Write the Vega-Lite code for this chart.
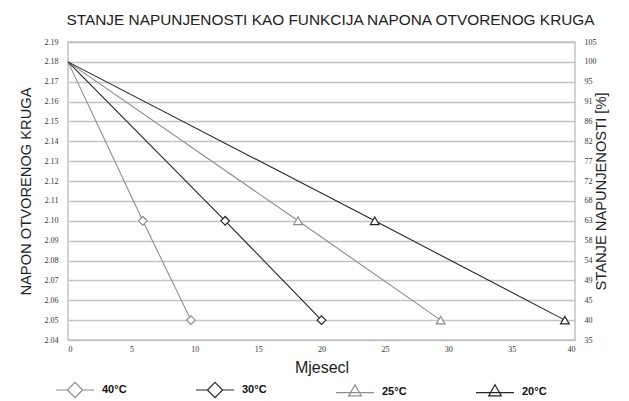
{
  "$schema": "https://vega.github.io/schema/vega-lite/v6.json",
  "width": 507,
  "height": 298,
  "autosize": "none",
  "padding": {"left": 68, "top": 42, "right": 54, "bottom": 61},
  "background": "white",
  "config": {
    "font": "Liberation Sans",
    "view": {"stroke": "#c4c4c4", "strokeWidth": 1.5},
    "axis": {
      "grid": false,
      "ticks": false,
      "domain": false,
      "labelFont": "Liberation Sans Narrow",
      "labelFontSize": 8,
      "labelColor": "#333",
      "titleFont": "Liberation Sans",
      "titleFontWeight": "normal",
      "titleFontSize": 14.7,
      "titleColor": "#222"
    }
  },
  "title": {
    "text": "STANJE NAPUNJENOSTI KAO FUNKCIJA NAPONA OTVORENOG KRUGA",
    "font": "Liberation Sans",
    "fontSize": 15.4,
    "fontWeight": "normal",
    "color": "#222",
    "dx": 9,
    "offset": 10
  },
  "data": {
    "values": [
      {"series": "40°C", "month": 0, "voltage": 2.18},
      {"series": "40°C", "month": 5.9, "voltage": 2.10},
      {"series": "40°C", "month": 9.7, "voltage": 2.05},
      {"series": "30°C", "month": 0, "voltage": 2.18},
      {"series": "30°C", "month": 12.4, "voltage": 2.10},
      {"series": "30°C", "month": 20.0, "voltage": 2.05},
      {"series": "25°C", "month": 0, "voltage": 2.18},
      {"series": "25°C", "month": 18.15, "voltage": 2.10},
      {"series": "25°C", "month": 29.4, "voltage": 2.05},
      {"series": "20°C", "month": 0, "voltage": 2.18},
      {"series": "20°C", "month": 24.2, "voltage": 2.10},
      {"series": "20°C", "month": 39.2, "voltage": 2.05}
    ]
  },
  "layer": [
    {
      "mark": {"type": "point", "opacity": 0},
      "encoding": {
        "x": {
          "field": "month", "type": "quantitative",
          "scale": {"domain": [0, 40], "nice": false, "zero": false},
          "axis": {"values": [0, 5, 10, 15, 20, 25, 30, 35, 40], "title": "Mjesecl", "labelPadding": 5, "titlePadding": 6, "titleFontSize": 16}
        },
        "y": {
          "field": "voltage", "type": "quantitative",
          "scale": {"domain": [2.04, 2.19], "nice": false, "zero": false},
          "axis": {
            "orient": "left",
            "values": [2.04, 2.05, 2.06, 2.07, 2.08, 2.09, 2.1, 2.11, 2.12, 2.13, 2.14, 2.15, 2.16, 2.17, 2.18, 2.19],
            "labelExpr": "format(datum.value, '.2f')",
            "labelOverlap": false,
            "grid": true,
            "gridColor": "#c4c4c4",
            "gridWidth": 1.5,
            "labelPadding": 10,
            "title": "NAPON OTVORENOG KRUGA",
            "titlePadding": 11
          }
        }
      }
    },
    {
      "layer": [
        {
          "mark": {"type": "line", "strokeWidth": 1.1},
          "encoding": {
            "x": {"field": "month", "type": "quantitative"},
            "y": {
              "field": "voltage", "type": "quantitative",
              "scale": {"domain": [2.04, 2.19], "nice": false, "zero": false},
              "axis": null
            },
            "color": {
              "field": "series", "type": "nominal",
              "scale": {"domain": ["40°C", "30°C", "25°C", "20°C"], "range": ["#8c8c8c", "#262626", "#8c8c8c", "#262626"]},
              "legend": {
                "title": null,
                "orient": "none",
                "direction": "horizontal",
                "columns": 4,
                "legendX": -13,
                "legendY": 328,
                "symbolSize": 1444,
                "symbolStrokeWidth": 1.2,
                "symbolFillColor": "white",
                "labelFont": "Liberation Sans",
                "labelFontWeight": "bold",
                "labelFontSize": 11,
                "labelColor": "#111",
                "labelOffset": 7,
                "columnPadding": 66,
                "encode": {
                  "symbols": {
                    "update": {
                      "shape": {"signal": "indexof(['40°C', '30°C'], datum.value) >= 0 ? 'M-1,0L-0.4,0M0.4,0L1,0M0,-0.4L0.4,0L0,0.4L-0.4,0Z' : 'M-1,0.05L1,0.05M0,-0.37L0.33,0.22L-0.33,0.22Z'"},
                      "fill": {"value": "white"},
                      "fillOpacity": {"value": 1},
                      "strokeWidth": {"value": 1.2}
                    }
                  }
                }
              }
            },
            "detail": {"field": "series"}
          }
        },
        {
          "transform": [{"filter": "datum.month > 0 && (datum.series === '40°C' || datum.series === '30°C')"}],
          "mark": {"type": "point", "shape": "diamond", "filled": false, "fill": "white", "fillOpacity": 1, "strokeWidth": 1.2, "size": 75},
          "encoding": {
            "x": {"field": "month", "type": "quantitative"},
            "y": {"field": "voltage", "type": "quantitative"},
            "stroke": {
              "field": "series", "type": "nominal",
              "scale": {"domain": ["40°C", "30°C", "25°C", "20°C"], "range": ["#8c8c8c", "#262626", "#8c8c8c", "#262626"]},
              "legend": null
            }
          }
        },
        {
          "transform": [{"filter": "datum.month > 0 && (datum.series === '25°C' || datum.series === '20°C')"}],
          "mark": {"type": "point", "shape": "triangle-up", "filled": false, "fill": "white", "fillOpacity": 1, "strokeWidth": 1.2, "size": 75},
          "encoding": {
            "x": {"field": "month", "type": "quantitative"},
            "y": {"field": "voltage", "type": "quantitative"},
            "stroke": {"field": "series", "type": "nominal", "legend": null}
          }
        }
      ]
    },
    {
      "mark": {"type": "point", "opacity": 0},
      "encoding": {
        "x": {"field": "month", "type": "quantitative"},
        "y": {
          "field": "voltage", "type": "quantitative",
          "scale": {"domain": [2.04, 2.19], "nice": false, "zero": false},
          "axis": {
            "orient": "right",
            "values": [2.04, 2.05, 2.06, 2.07, 2.08, 2.09, 2.1, 2.11, 2.12, 2.13, 2.14, 2.15, 2.16, 2.17, 2.18, 2.19],
            "labelExpr": "['35','40','45','49','54','58','63','68','72','77','82','86','91','95','100','105'][round((datum.value - 2.04) * 100)]",
            "labelPadding": 9,
            "labelOverlap": false,
            "title": "STANJE NAPUNJENOSTI [%]",
            "titleAngle": 270,
            "titlePadding": 12
          }
        }
      }
    }
  ],
  "resolve": {"scale": {"y": "independent"}}
}
